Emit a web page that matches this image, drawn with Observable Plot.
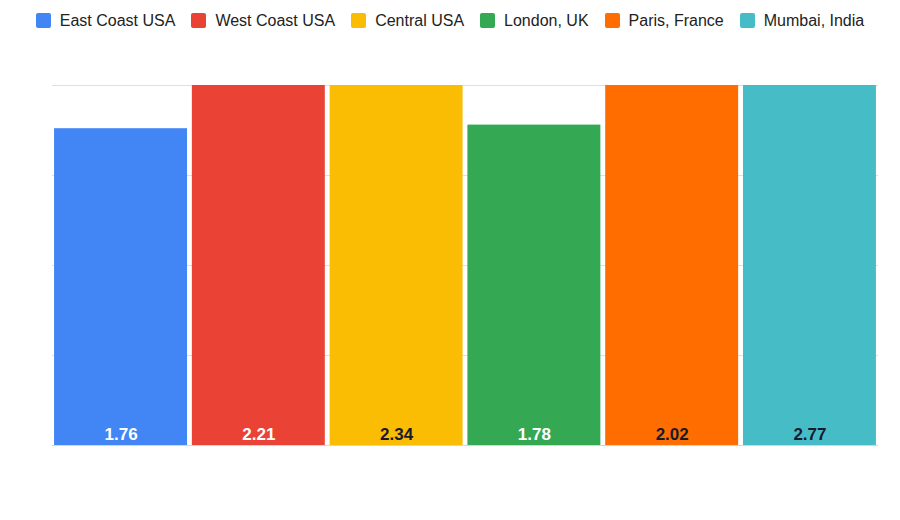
<!DOCTYPE html>
<html>
<head>
<meta charset="utf-8">
<script src="https://cdn.jsdelivr.net/npm/d3@7"></script>
<script src="https://cdn.jsdelivr.net/npm/@observablehq/plot@0.6"></script>
<style>
  body { margin: 0; background: #fff; font-family: "Liberation Sans", Arial, sans-serif; }
  #legend { height: 41px; display: flex; justify-content: center; align-items: center; gap: 16px; font-size: 16px; color: #222; padding-left: 0; }
  .item { display: flex; align-items: center; gap: 9px; }
  .sw { width: 15px; height: 15px; border-radius: 2px; display: inline-block; }
</style>
</head>
<body>
<div id="legend"></div>
<div id="chart"></div>
<script>
const categories = ["East Coast USA", "West Coast USA", "Central USA", "London, UK", "Paris, France", "Mumbai, India"];
const values = [1.76, 2.21, 2.34, 1.78, 2.02, 2.77];
const palette = ["#4285f4", "#ea4335", "#fbbc04", "#34a853", "#ff6d01", "#46bdc6"];
const labelColors = ["#ffffff", "#ffffff", "#1a1a2e", "#ffffff", "#1a1a2e", "#1a1a2e"];
const gridTicks = [0, 0.5, 1, 1.5, 2];

const data = categories.map((c, i) => ({ name: c, value: values[i], label: values[i].toFixed(2), lc: labelColors[i] }));

const legend = document.getElementById("legend");
categories.forEach((c, i) => {
  const it = document.createElement("div");
  it.className = "item";
  it.innerHTML = `<span class="sw" style="background:${palette[i]}"></span><span>${c}</span>`;
  legend.appendChild(it);
});

const chart = Plot.plot({
  width: 900,
  height: 479,
  marginTop: 44,
  marginBottom: 75,
  marginLeft: 52,
  marginRight: 22,
  style: { fontFamily: "Liberation Sans, Arial, sans-serif", background: "#fff" },
  x: { domain: categories, axis: null, round: false, paddingInner: 0.035, paddingOuter: 0.015 },
  y: { domain: [0, 2], clamp: true, axis: null },
  color: { domain: categories, range: palette },
  marks: [
    Plot.ruleY(gridTicks, { stroke: "#e0e0e0", strokeWidth: 1 }),
    Plot.barY(data, { x: "name", y: "value", fill: "name" }),
    Plot.ruleY([0], { stroke: "#d6d6d6", strokeWidth: 1 }),
    Plot.text(data, { x: "name", y: 0, text: "label", fill: "lc", dy: -11, fontSize: 17, fontWeight: "bold" })
  ]
});
document.getElementById("chart").appendChild(chart);
</script>
</body>
</html>
